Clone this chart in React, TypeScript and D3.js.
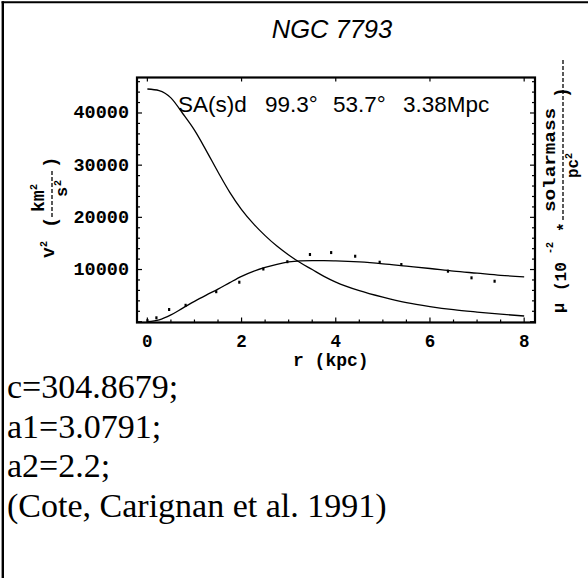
import React from 'react';
import * as d3 from 'd3';

// ---- data ----
const rGrid = [0, 0.25, 0.5, 0.75, 1.0, 1.25, 1.5, 1.75, 2.0, 2.25, 2.5, 2.75, 3.0, 3.25, 3.5, 3.75, 4.0, 4.5, 5.0, 5.5, 6.0, 6.5, 7.0, 7.5, 8.0];
const muCurve = [44600, 44300, 42900, 39900, 36700, 32800, 28700, 24800, 21500, 18800, 16500, 14500, 12800, 11300, 10000, 8700, 7600, 5950, 4700, 3650, 2900, 2300, 1850, 1450, 1100];
const v2Curve = [0, 350, 1300, 2600, 3900, 5100, 6250, 7500, 8700, 9650, 10400, 11000, 11450, 11650, 11700, 11700, 11650, 11450, 11100, 10650, 10200, 9700, 9300, 8900, 8600];
const obsR = [0.0, 0.19, 0.46, 0.81, 1.46, 1.95, 2.46, 2.97, 3.45, 3.9, 4.41, 4.93, 5.39, 6.38, 6.88, 7.37];
const obsV2 = [200, 750, 2340, 3150, 5750, 7570, 10100, 11500, 12880, 13250, 12550, 11400, 10960, 9680, 8410, 7760];

const xTickValues = [0, 2, 4, 6, 8];
const xTickLabels = ['0', '2', '4', '6', '8'];
const yTickValues = [10000, 20000, 30000, 40000];
const yTickLabels = ['10000', '20000', '30000', '40000'];

const title = 'NGC 7793';
const annotationParts = ['SA(s)d', '99.3°', '53.7°', '3.38Mpc'];
const xAxisLabel = 'r (kpc)';
const paramLines = ['c=304.8679;', 'a1=3.0791;', 'a2=2.2;', '(Cote, Carignan et al. 1991)'];

export default function App() {
  const W = 588, H = 578;
  const left = 137, right = 535, top = 77.5, bottom = 322.5;
  const x = d3.scaleLinear().domain([-0.22, 8.23]).range([left, right]);
  const y = d3.scaleLinear().domain([-150, 46800]).range([bottom, top]);

  const mkLine = d3.line<number>()
    .x((_, i) => x(rGrid[i]))
    .y((d) => y(d))
    .curve(d3.curveMonotoneX);
  const muPath = mkLine(muCurve) || '';
  const v2Path = mkLine(v2Curve) || '';

  const xMinor = d3.range(0, 8.01, 0.5);
  const yMinor = d3.range(0, 46001, 2000);

  const mono = '"Liberation Mono", "DejaVu Sans Mono", monospace';
  const sans = '"Liberation Sans", Arial, sans-serif';
  const serif = '"Liberation Serif", "Times New Roman", serif';

  const annX = [178, 265, 333, 403];

  return (
    <svg width={W} height={H} style={{ position: 'absolute', left: 0, top: 0, background: '#fff' }}>
      <rect x={0} y={0} width={W} height={H} fill="#fff" />
      {/* outer page border (left and top) */}
      <line x1={2.8} y1={1.3} x2={2.8} y2={H} stroke="#000" strokeWidth={2.4} />
      <line x1={1.6} y1={2.3} x2={W} y2={2.3} stroke="#000" strokeWidth={2} />

      {/* title */}
      <text x={332} y={38} textAnchor="middle" fontFamily={sans} fontStyle="italic" fontSize={25.5}>{title}</text>

      {/* ticks */}
      <g stroke="#000" strokeWidth={1.2}>
        {xMinor.map((v) => {
          const major = xTickValues.includes(v);
          return <line key={'bx' + v} x1={x(v)} x2={x(v)} y1={bottom} y2={bottom - (major ? 5 : 3)} />;
        })}
        {xTickValues.map((v) => (
          <line key={'tx' + v} x1={x(v)} x2={x(v)} y1={top} y2={top + 4} />
        ))}
        {yMinor.map((v) => {
          const major = v % 10000 === 0;
          return (
            <g key={'y' + v}>
              <line x1={left} x2={left + (major ? 5 : 3)} y1={y(v)} y2={y(v)} />
              <line x1={right} x2={right - (major ? 5 : 3)} y1={y(v)} y2={y(v)} />
            </g>
          );
        })}
      </g>

      {/* frame */}
      <rect x={left} y={top} width={right - left} height={bottom - top} fill="none" stroke="#000" strokeWidth={2.2} />

      {/* tick labels */}
      {xTickValues.map((v, i) => (
        <text key={'xl' + v} x={x(v)} y={347} textAnchor="middle" fontFamily={mono} fontSize={17.5} fontWeight="bold">{xTickLabels[i]}</text>
      ))}
      {yTickValues.map((v, i) => (
        <text key={'yl' + v} x={129} y={y(v) + 5.5} textAnchor="end" fontFamily={mono} fontSize={18.5} fontWeight="bold">{yTickLabels[i]}</text>
      ))}

      {/* x axis label */}
      <text x={293} y={366} fontFamily={mono} fontSize={18} fontWeight="bold">{xAxisLabel}</text>

      {/* left y axis label, rotated */}
      <g transform="translate(52,258) rotate(-90)" fontFamily={mono} fontWeight="bold">
        <text x={0} y={2} fontSize={18}>v</text>
        <text x={11} y={-5} fontSize={10}>2</text>
        <text x={30} y={4} fontSize={19}>(</text>
        <text x={46} y={-8} fontSize={18}>km</text>
        <text x={68} y={-15} fontSize={10}>2</text>
        <line x1={41} x2={88} y1={0} y2={0} stroke="#000" strokeWidth={1.3} strokeDasharray="4,2" />
        <text x={61} y={15} fontSize={17}>s</text>
        <text x={72} y={9} fontSize={10}>2</text>
        <text x={90} y={4} fontSize={19}>)</text>
      </g>

      {/* right axis label, rotated */}
      <g transform="translate(563,340) rotate(-90)" fontFamily={mono} fontWeight="bold">
        <text x={27} y={1} fontSize={17}>μ</text>
        <text x={49} y={3} fontSize={16}>(10</text>
        <text x={86} y={-10} fontSize={10}>-2</text>
        <text x={108} y={6} fontSize={16}>*</text>
        <line x1={120} x2={280} y1={0} y2={0} stroke="#000" strokeWidth={1.3} strokeDasharray="4,2" />
        <text x={128} y={-8} fontSize={16} textLength={104} lengthAdjust="spacingAndGlyphs">solarmass</text>
        <text x={162} y={15} fontSize={16}>pc</text>
        <text x={181} y={9} fontSize={10}>2</text>
        <text x={242} y={4} fontSize={18}>)</text>
      </g>

      {/* curves */}
      <path d={muPath} fill="none" stroke="#000" strokeWidth={1.3} />
      <path d={v2Path} fill="none" stroke="#000" strokeWidth={1.3} />

      {/* observed points */}
      {obsR.map((r, i) => (
        <rect key={'p' + i} x={x(r) - 1} y={y(obsV2[i]) - 1.5} width={2.2} height={3} fill="#000" />
      ))}

      {/* annotation */}
      {annotationParts.map((t, i) => (
        <text key={'a' + i} x={annX[i]} y={112} fontFamily={sans} fontSize={22.5}>{t}</text>
      ))}

      {/* parameter text */}
      {paramLines.map((t, i) => (
        <text key={'pl' + i} x={7} y={398 + i * 39.5} fontFamily={serif} fontSize={34}>{t}</text>
      ))}
    </svg>
  );
}
